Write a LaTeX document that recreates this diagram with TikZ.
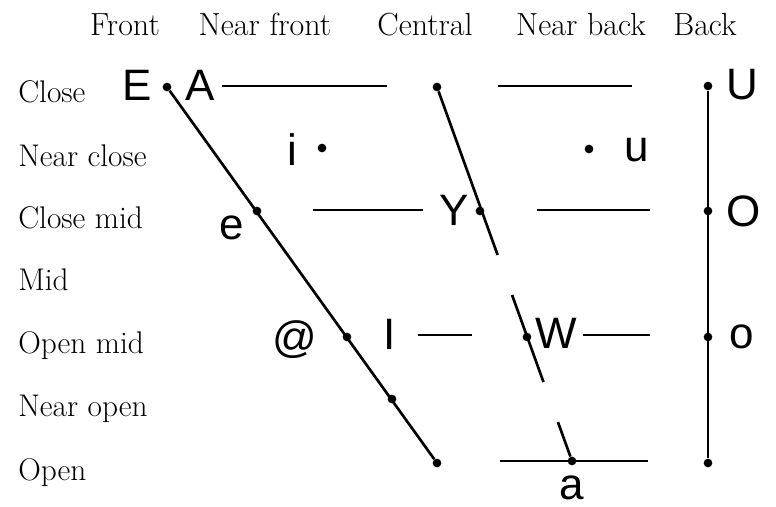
\documentclass[tikz,border=0pt]{standalone}
\usepackage{fontspec}
\newfontfamily\vowelfont{Liberation Sans}
\usetikzlibrary{calc}

\begin{document}
\begin{tikzpicture}[x=0.75pt, y=-0.75pt,
    every node/.style={inner sep=0pt},
    lbl/.style={anchor=base, font=\fontsize{24}{26}\selectfont},
    rowlbl/.style={anchor=base west, font=\fontsize{23.5}{26}\selectfont},
    vowel/.style={font=\vowelfont\fontsize{33}{36}\selectfont},
    dot/.style={circle, fill=black, minimum size=6.5pt},
    axis/.style={line width=2pt},
    level/.style={line width=1.6pt},
]
\useasboundingbox (0,0) rectangle (776,507);

% Column headings
\node[lbl] (hfront) at (125,35) {Front};
\node[lbl] (hnfront) at (265,35) {Near front};
\node[lbl] (hcentral) at (425,35) {Central};
\node[lbl] (hnback) at (581,35) {Near back};
\node[lbl] (hback) at (705,35) {Back};

% Row headings
\node[rowlbl] (rclose) at (18,102) {Close};
\node[rowlbl] (rnclose) at (18,166) {Near close};
\node[rowlbl] (rcmid) at (18,228) {Close mid};
\node[rowlbl] (rmid) at (18,290) {Mid};
\node[rowlbl] (romid) at (18,353) {Open mid};
\node[rowlbl] (rnopen) at (18,416) {Near open};
\node[rowlbl] (ropen) at (18,480) {Open};

% Vowel points
\node[dot] (fc) at (167,87) {};
\node[dot] (fcm) at (257,211) {};
\node[dot] (fom) at (347,337) {};
\node[dot] (fno) at (392,399) {};
\node[dot] (fo) at (437,463) {};
\node[dot] (cc) at (437,87) {};
\node[dot] (ccm) at (480,211) {};
\node[dot] (com) at (527,337) {};
\node[dot] (co) at (572,461) {};
\node[dot] (bc) at (708,86) {};
\node[dot] (bcm) at (708,211) {};
\node[dot] (bom) at (708,337) {};
\node[dot] (bo) at (708,463) {};
\node[dot] (nfnc) at (322,148) {};
\node[dot] (nbnc) at (589,149) {};

% Vowel letters
\node[vowel] (vE) at (137,85) {E};
\node[vowel] (vA) at (200,85) {A};
\node[vowel] (vU) at (742,85) {U};
\node[vowel] (vi) at (292,150) {i};
\node[vowel] (vu) at (637,150) {u};
\node[vowel] (ve) at (232,228) {e};
\node[vowel] (vY) at (454,210) {Y};
\node[vowel] (vO) at (744,211) {O};
\node[vowel] (vat) at (295,340) {@};
\node[vowel] (vI) at (390,334) {I};
\node[vowel] (vW) at (556,333) {W};
\node[vowel] (vo) at (742,337) {o};
\node[vowel] (va) at (572,488) {a};

% Front, central and back lines
\draw[axis] (fc) -- (fo);
\draw[axis] (cc) -- ($(cc)!0.449!(co)$);
\draw[axis] ($(cc)!0.556!(co)$) -- ($(cc)!0.789!(co)$);
\draw[axis] ($(cc)!0.896!(co)$) -- (co);
\draw[axis] (bc) -- (bo);

% Level lines
\coordinate (cl1) at (222,86);
\coordinate (cl2) at (387,86);
\coordinate (cl3) at (498,86);
\coordinate (cl4) at (632,86);
\coordinate (cm1) at (313,210);
\coordinate (cm2) at (423,210);
\coordinate (cm3) at (537,210);
\coordinate (cm4) at (650,210);
\coordinate (om1) at (418,335);
\coordinate (om2) at (472,335);
\coordinate (om3) at (583,335);
\coordinate (om4) at (650,335);
\coordinate (op1) at (500,461);
\coordinate (op2) at (648,461);
\draw[level] (cl1) -- (cl2);
\draw[level] (cl3) -- (cl4);
\draw[level] (cm1) -- (cm2);
\draw[level] (cm3) -- (cm4);
\draw[level] (om1) -- (om2);
\draw[level] (om3) -- (om4);
\draw[level] (op1) -- (op2);

\end{tikzpicture}
\end{document}
